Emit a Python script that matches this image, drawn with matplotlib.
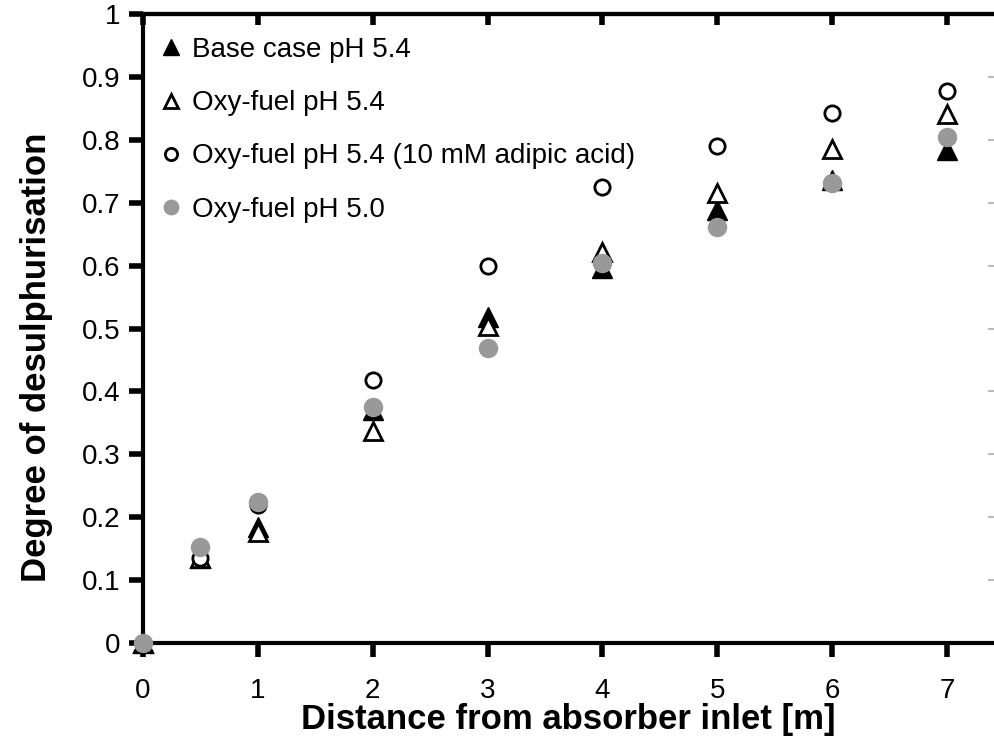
import numpy as np
import matplotlib
matplotlib.use('Agg')
import matplotlib.pyplot as plt
from matplotlib.ticker import FormatStrFormatter

plt.rcParams['font.family'] = ['Liberation Sans', 'DejaVu Sans']

# distance from absorber inlet [m]
dist = [0, 0.5, 1, 2, 3, 4, 5, 6, 7]
base_54 = [0, 0.135, 0.185, 0.370, 0.518, 0.596, 0.688, 0.736, 0.784]
oxy_54 = [0, 0.135, 0.177, 0.337, 0.504, 0.622, 0.715, 0.785, 0.841]
oxy_54_adipic = [0, 0.135, 0.219, 0.418, 0.599, 0.725, 0.790, 0.843, 0.878]
oxy_50 = [0, 0.153, 0.224, 0.375, 0.469, 0.604, 0.661, 0.731, 0.804]

labels = ['Base case pH 5.4', 'Oxy-fuel pH 5.4',
          'Oxy-fuel pH 5.4 (10 mM adipic acid)', 'Oxy-fuel pH 5.0']

fig = plt.figure(figsize=(9.94, 7.42), dpi=100)
ax = fig.add_axes([0.1439, 0.1334, 1.0 - 0.1439, 0.981 - 0.1334])

ax.plot(dist, base_54, '^', color='black', ms=14, clip_on=False, zorder=3, label=labels[0])
ax.plot(dist, oxy_54, '^', mfc='white', mec='black', mew=2, ms=13, clip_on=False, zorder=3, label=labels[1])
ax.plot(dist, oxy_54_adipic, 'o', mfc='white', mec='black', mew=2, ms=11, clip_on=False, zorder=3, label=labels[2])
ax.plot(dist, oxy_50, 'o', color='#999999', ms=13, clip_on=False, zorder=4, label=labels[3])

ax.set_xlim(0, 7.41)
ax.set_ylim(0, 1)
ax.set_xticks(range(8))
ax.set_yticks(np.arange(0, 1.01, 0.1))
ax.yaxis.set_major_formatter(FormatStrFormatter('%g'))

for s in ['left', 'bottom', 'top']:
    ax.spines[s].set_linewidth(3)
ax.spines['right'].set_visible(False)
ax.tick_params(axis='both', direction='out', length=10, width=4, labelsize=20,
               top=False, right=False, bottom=True, left=True, color='black')
ax.tick_params(axis='x', pad=15)
ax.tick_params(axis='y', pad=6)

# top axis: ticks pointing down into the plot
top = ax.secondary_xaxis('top')
top.set_xticks(range(8))
top.tick_params(direction='in', length=8, width=4, labeltop=False)
top.spines['top'].set_linewidth(3)

# faint inward ticks on the right edge
for y in np.arange(0.1, 0.91, 0.1):
    ax.plot([7.37, 7.41], [y, y], color='#bbbbbb', lw=1.5, clip_on=False)

ax.set_xlabel('Distance from absorber inlet [m]', fontsize=25, fontweight='bold')
ax.set_ylabel('Degree of desulphurisation', fontsize=25, fontweight='bold')
ax.xaxis.set_label_coords(0.5, -0.095)
ax.yaxis.set_label_coords(-0.106, 0.455)

ax.legend(loc='upper left', bbox_to_anchor=(-0.011, 0.99), frameon=False, fontsize=20,
          handletextpad=0.0, labelspacing=0.98, borderaxespad=0.2, handlelength=1.5,
          markerscale=0.8)

fig.savefig('out.png', dpi=100)
